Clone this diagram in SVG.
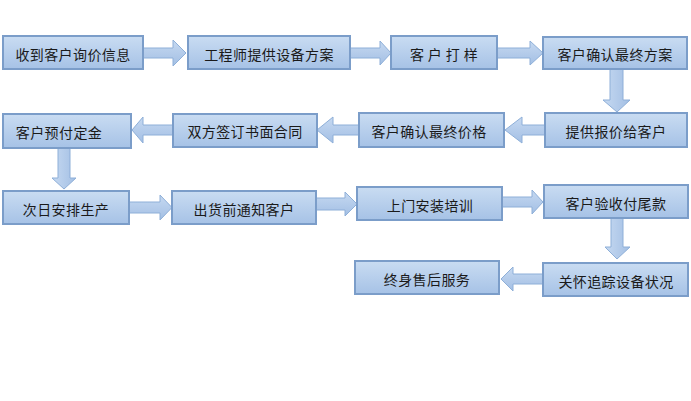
<svg xmlns="http://www.w3.org/2000/svg" width="691" height="401" viewBox="0 0 691 401">
<defs>
<linearGradient id="bg" x1="0" y1="0" x2="0" y2="1">
<stop offset="0" stop-color="#c9dcf2"/>
<stop offset="1" stop-color="#a6c2e6"/>
</linearGradient>
<linearGradient id="ah" x1="0" y1="0" x2="0" y2="1">
<stop offset="0" stop-color="#c6d9f1"/>
<stop offset="1" stop-color="#a3bfe4"/>
</linearGradient>
<linearGradient id="av" x1="0" y1="0" x2="1" y2="0">
<stop offset="0" stop-color="#c6d9f1"/>
<stop offset="1" stop-color="#a3bfe4"/>
</linearGradient>
</defs>
<style>
.box{fill:url(#bg);stroke:#7b9dc9;stroke-width:2}
.t{font-family:"Noto Sans CJK SC","Liberation Sans",sans-serif;font-size:14px;letter-spacing:0.4px;fill:#1a1a1a;text-anchor:middle;dominant-baseline:central}
.ah{fill:url(#ah);stroke:#8eafd8;stroke-width:1}
.av{fill:url(#av);stroke:#8eafd8;stroke-width:1}
</style>
<rect width="691" height="401" fill="#ffffff"/>
<g id="connectors">
<polygon class="ah" points="143,48 173,48 173,40 186,53 173,66 173,58 143,58"/>
<polygon class="ah" points="350,48 380,48 380,41 391,53 380,65 380,58 350,58"/>
<polygon class="ah" points="497,48 530,48 530,41 543,53 530,65 530,58 497,58"/>
<polygon class="av" points="610,69 623,69 623,100 630,100 617,112 603,100 610,100"/>
<polygon class="ah" points="545,125 522,125 522,117 505,130 522,143 522,135 545,135"/>
<polygon class="ah" points="359,125 333,125 333,117 317,130 333,143 333,135 359,135"/>
<polygon class="ah" points="173,125 143,125 143,117 132,130 143,143 143,135 173,135"/>
<polygon class="av" points="58,148 70,148 70,178 76,178 64,189 52,178 58,178"/>
<polygon class="ah" points="129,202 160,202 160,195 172,207.5 160,220 160,213 129,213"/>
<polygon class="ah" points="316,198 345,198 345,192 357,204 345,216 345,210 316,210"/>
<polygon class="ah" points="502,197 532,197 532,190 543,202 532,214 532,207 502,207"/>
<polygon class="av" points="611,218 623,218 623,247 630,247 617,259 605,247 611,247"/>
<polygon class="ah" points="543,274 513,274 513,267 501,279 513,291 513,284 543,284"/>
</g>
<g id="n1"><rect class="box" x="3" y="36" width="140" height="33"/><text class="t" x="73" y="54">收到客户询价信息</text></g>
<g id="n2"><rect class="box" x="188" y="36" width="162" height="33"/><text class="t" x="269" y="54">工程师提供设备方案</text></g>
<g id="n3"><rect class="box" x="391" y="36" width="106" height="33"/><text class="t" x="444" y="54">客 户 打 样</text></g>
<g id="n4"><rect class="box" x="543" y="37" width="144" height="32"/><text class="t" x="615" y="54">客户确认最终方案</text></g>
<g id="n5"><rect class="box" x="545" y="113" width="142" height="34"/><text class="t" x="616" y="131">提供报价给客户</text></g>
<g id="n6"><rect class="box" x="359" y="113" width="145" height="34"/><text class="t" x="429" y="131">客户确认最终价格</text></g>
<g id="n7"><rect class="box" x="173" y="114" width="144" height="33"/><text class="t" x="245" y="131">双方签订书面合同</text></g>
<g id="n8"><rect class="box" x="3" y="114" width="128" height="34"/><text class="t" x="59" y="132">客户预付定金</text></g>
<g id="n9"><rect class="box" x="3" y="191" width="126" height="33"/><text class="t" x="66" y="209">次日安排生产</text></g>
<g id="n10"><rect class="box" x="172" y="191" width="144" height="33"/><text class="t" x="244" y="209">出货前通知客户</text></g>
<g id="n11"><rect class="box" x="357" y="187" width="145" height="33"/><text class="t" x="430" y="205">上门安装培训</text></g>
<g id="n12"><rect class="box" x="544" y="185" width="144" height="33"/><text class="t" x="616" y="203">客户验收付尾款</text></g>
<g id="n13"><rect class="box" x="543" y="263" width="145" height="33"/><text class="t" x="616" y="281">关怀追踪设备状况</text></g>
<g id="n14"><rect class="box" x="355" y="261" width="144" height="33"/><text class="t" x="427" y="279">终身售后服务</text></g>
</svg>
